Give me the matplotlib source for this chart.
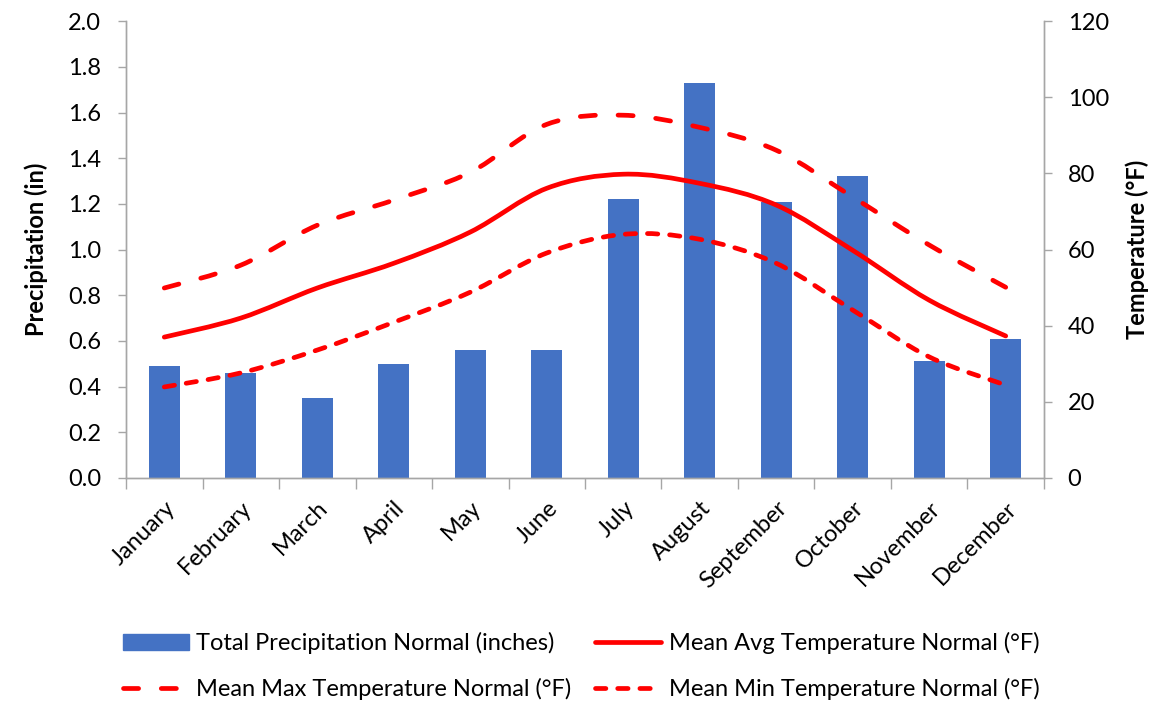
import matplotlib.pyplot as plt
import numpy as np
from matplotlib.path import Path
from matplotlib.patches import PathPatch
from matplotlib.lines import Line2D

plt.rcParams['font.family'] = ['Lato', 'DejaVu Sans']

months = ['January', 'February', 'March', 'April', 'May', 'June', 'July',
          'August', 'September', 'October', 'November', 'December']
precip = [0.49, 0.46, 0.35, 0.50, 0.56, 0.56, 1.22, 1.73, 1.21, 1.32, 0.51, 0.61]
temp_avg = [37.0, 42.0, 49.9, 56.4, 64.6, 76.1, 79.8, 77.4, 71.7, 59.8, 46.7, 37.3]
temp_max = [49.9, 55.9, 66.4, 73.0, 80.3, 92.9, 95.3, 92.1, 86.1, 73.8, 61.2, 50.1]
temp_min = [23.9, 27.6, 33.6, 40.9, 48.8, 59.1, 64.0, 62.7, 56.4, 44.1, 31.8, 24.4]

RED = '#FF0000'
BLUE = '#4472C4'
GRAY = '#A6A6A6'
FS = 17
LW = 3.4


def smooth_path(x, y):
    # Catmull-Rom style bezier through the data points (like Excel's smoothed line)
    pts = np.column_stack([x, y]).astype(float)
    ext = np.vstack([pts[0], pts, pts[-1]])
    verts = [pts[0]]
    codes = [Path.MOVETO]
    for i in range(1, len(ext) - 2):
        p0, p1, p2, p3 = ext[i - 1], ext[i], ext[i + 1], ext[i + 2]
        c1 = p1 + (p2 - p0) / 6.0
        c2 = p2 - (p3 - p1) / 6.0
        verts += [c1, c2, p2]
        codes += [Path.CURVE4] * 3
    return Path(verts, codes)


fig = plt.figure(figsize=(11.51, 7.07), dpi=100)
ax = fig.add_axes([0.1095, 0.324, 0.7975, 0.646])
ax2 = ax.twinx()

x = np.arange(len(months))
ax.bar(x, precip, width=0.4, color=BLUE, zorder=2)

ax.set_ylim(0, 2.0)
ax.set_yticks(np.arange(0, 2.01, 0.2))
ax.set_yticklabels([f'{v:.1f}' for v in np.arange(0, 2.01, 0.2)])
ax.set_xlim(-0.5, len(months) - 0.5)
ax.set_xticks(x)
ax.set_xticklabels(months, rotation=45, ha='right', rotation_mode='anchor')
ax.set_xticks(np.arange(-0.5, len(months), 1.0), minor=True)
ax.tick_params(axis='x', which='major', length=0, pad=14, labelsize=FS)
ax.tick_params(axis='x', which='minor', length=8, color=GRAY, width=1)
ax.tick_params(axis='y', length=6, color=GRAY, width=1, labelsize=FS, pad=12)
ax.set_ylabel('Precipitation (in)', fontsize=FS, fontweight='bold', labelpad=14)

ax2.set_ylim(0, 120)
ax2.set_yticks(np.arange(0, 121, 20))
ax2.tick_params(axis='y', length=6, color=GRAY, width=1, labelsize=FS, pad=11)
ax2.set_ylabel('Temperature (°F)', fontsize=FS, fontweight='bold', labelpad=12)

for a in (ax, ax2):
    a.spines['top'].set_visible(False)
    for s in ('left', 'right', 'bottom'):
        a.spines[s].set_color(GRAY)
        a.spines[s].set_linewidth(1)

styles = [
    (temp_avg, '-', 'Mean Avg Temperature Normal (°F)'),
    (temp_max, (0, (3.2, 4.8)), 'Mean Max Temperature Normal (°F)'),
    (temp_min, (0, (2.2, 2.5)), 'Mean Min Temperature Normal (°F)'),
]
handles = {}
for vals, ls, label in styles:
    patch = PathPatch(smooth_path(x, vals), facecolor='none', edgecolor=RED,
                      linewidth=LW, linestyle=ls, capstyle='round', zorder=3)
    ax2.add_patch(patch)
    handles[label] = Line2D([], [], color=RED, linewidth=LW, linestyle=ls,
                            solid_capstyle='round', dash_capstyle='round')

bar_handle = plt.Rectangle((0, 0), 1, 1, color=BLUE)
leg_handles = [bar_handle, handles[styles[1][2]],
               handles[styles[0][2]], handles[styles[2][2]]]
leg_labels = ['Total Precipitation Normal (inches)', styles[1][2],
              styles[0][2], styles[2][2]]
fig.legend(leg_handles, leg_labels, ncol=2, loc='lower center',
           bbox_to_anchor=(0.505, -0.02), frameon=False, fontsize=FS,
           handlelength=2.8, handletextpad=0.3, columnspacing=1.0,
           labelspacing=1.0)

fig.savefig('out.png', dpi=100)
